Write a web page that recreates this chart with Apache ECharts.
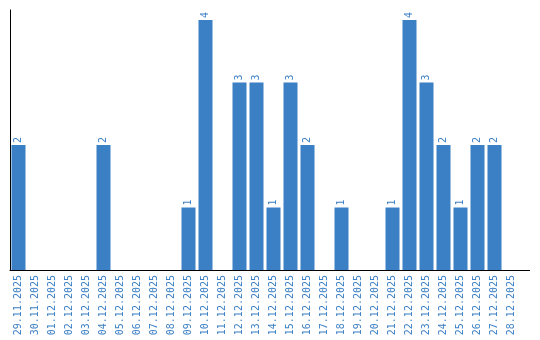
<!DOCTYPE html>
<html><head><meta charset="utf-8">
<script src="https://cdn.jsdelivr.net/npm/echarts@6/dist/echarts.min.js"></script>
<style>html,body{margin:0;padding:0;background:#fff}#c{width:540px;height:340px}</style>
</head><body><div id="c"></div>
<script>
const categories = ["29.11.2025","30.11.2025","01.12.2025","02.12.2025","03.12.2025","04.12.2025","05.12.2025","06.12.2025","07.12.2025","08.12.2025","09.12.2025","10.12.2025","11.12.2025","12.12.2025","13.12.2025","14.12.2025","15.12.2025","16.12.2025","17.12.2025","18.12.2025","19.12.2025","20.12.2025","21.12.2025","22.12.2025","23.12.2025","24.12.2025","25.12.2025","26.12.2025","27.12.2025","28.12.2025"];
const counts = [2,0,0,0,0,2,0,0,0,0,1,4,0,3,3,1,3,2,0,1,0,0,1,4,3,2,1,2,2,0];

const blue = '#3b7fc4';
const chart = echarts.init(document.getElementById('c'));
chart.setOption({
  animation: false,
  grid: {left: 10, top: 10, width: 510, height: 260, containLabel: false},
  xAxis: {
    type: 'category', data: categories,
    axisLine: {lineStyle: {color: '#000', width: 1}},
    axisTick: {show: false},
    axisLabel: {rotate: 90, color: blue, fontFamily: 'DejaVu Sans Mono', fontSize: 10, margin: 5, interval: 0}
  },
  yAxis: {
    type: 'value', min: 0, max: 4.16,
    axisLine: {show: true, lineStyle: {color: '#000', width: 1}},
    axisTick: {show: false}, axisLabel: {show: false}, splitLine: {show: false}
  },
  graphic: [{type: 'line', shape: {x1: 520, y1: 270.5, x2: 530, y2: 270.5}, style: {stroke: '#000', lineWidth: 1}}],
  series: [{
    type: 'bar', data: counts, barWidth: 14,
    itemStyle: {color: blue},
    label: {
      show: true, position: 'top', rotate: 90, align: 'left', verticalAlign: 'middle', distance: 2,
      color: blue, fontFamily: 'DejaVu Sans Mono', fontSize: 10,
      formatter: p => p.value === 0 ? '' : String(p.value)
    }
  }]
});
</script></body></html>
